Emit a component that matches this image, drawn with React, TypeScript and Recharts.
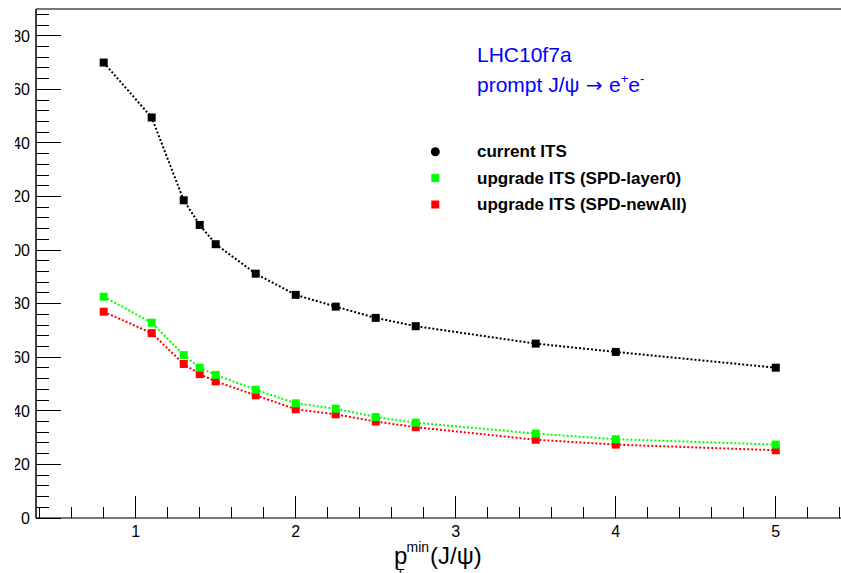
import React from 'react';
import { LineChart, Line, XAxis, YAxis, Legend, ReferenceLine } from 'recharts';

const FONT = '"Liberation Sans", Arial, Helvetica, sans-serif';

// pT min cut values (GeV/c)
const ptMin = [0.8, 1.1, 1.3, 1.4, 1.5, 1.75, 2, 2.25, 2.5, 2.75, 3.5, 4, 5];
const currentITS = [170.0, 149.5, 118.6, 109.4, 102.2, 91.2, 83.3, 78.9, 74.7, 71.6, 65.1, 62.0, 56.1];
const upgradeLayer0 = [82.6, 72.9, 60.8, 56.1, 53.4, 47.9, 42.8, 40.8, 37.7, 35.6, 31.5, 29.4, 27.4];
const upgradeNewAll = [77.0, 69.0, 57.5, 53.7, 51.0, 45.8, 40.6, 38.7, 36.0, 33.9, 29.2, 27.4, 25.3];

const seriesNames = ['current ITS', 'upgrade ITS (SPD-layer0)', 'upgrade ITS (SPD-newAll)'];

const xTicks = [0.4, 0.6, 0.8, 1, 1.2, 1.4, 1.6, 1.8, 2, 2.2, 2.4, 2.6, 2.8, 3, 3.2, 3.4, 3.6, 3.8, 4, 4.2, 4.4, 4.6, 4.8, 5, 5.2, 5.4];
const yTicks = [0, 4, 8, 12, 16, 20, 24, 28, 32, 36, 40, 44, 48, 52, 56, 60, 64, 68, 72, 76, 80, 84, 88, 92, 96, 100, 104, 108, 112, 116, 120, 124, 128, 132, 136, 140, 144, 148, 152, 156, 160, 164, 168, 172, 176, 180, 184, 188];
const yLabels = [0, 20, 40, 60, 80, 100, 120, 140, 160, 180];

const data = ptMin.map((x, i) => ({
  x,
  cur: currentITS[i],
  l0: upgradeLayer0[i],
  na: upgradeNewAll[i],
}));

function XTick(props: any) {
  const { x, y, payload } = props;
  const major = Number.isInteger(payload.value);
  return (
    <g>
      <line x1={x} x2={x} y1={y} y2={y - (major ? 22 : 11)} stroke="#000" strokeWidth={1} shapeRendering="crispEdges" />
      {major && (
        <text x={x} y={y + 19} textAnchor="middle" fontSize={16} fontFamily={FONT} fill="#000">
          {payload.value}
        </text>
      )}
    </g>
  );
}

function YTick(props: any) {
  const { x, y, payload } = props;
  const major = yLabels.includes(payload.value);
  return (
    <g>
      <line x1={x} x2={x + (major ? 25 : 13)} y1={y} y2={y} stroke="#000" strokeWidth={1} shapeRendering="crispEdges" />
      {major && (
        <text x={x - 6} y={y} dy="0.36em" textAnchor="end" fontSize={16} fontFamily={FONT} fill="#000">
          {payload.value}
        </text>
      )}
    </g>
  );
}

const squareDot = (color: string) => (p: any) => (
  <rect key={`d-${color}-${p.index}`} x={p.cx - 4} y={p.cy - 4} width={8} height={8} fill={color} />
);

function Overlay(props: any) {
  const payload = props.payload || [];
  const items = seriesNames.map((n) => payload.find((p: any) => p.value === n)).filter(Boolean);
  return (
    <svg width={841} height={573} style={{ display: 'block', pointerEvents: 'none' }}>
      <text x={477} y={62} fontSize={21} fontFamily={FONT} fill="#0000ff">LHC10f7a</text>
      <text x={477} y={92} fontSize={21} fontFamily={FONT} fill="#0000ff">
        prompt J/ψ
        <tspan fontFamily='"DejaVu Sans", sans-serif' fontSize={20}> → </tspan>
        e
        <tspan fontSize={13} dy={-9}>+</tspan>
        <tspan dy={9}>e</tspan>
        <tspan fontSize={13} dy={-9}>-</tspan>
      </text>
      {items.map((it: any, i: number) => (
        <g key={it.value}>
          {it.type === 'circle' ? (
            <circle cx={435.3} cy={151.7 + i * 26.4} r={4.5} fill={it.color} />
          ) : (
            <rect x={431.3} y={147.7 + i * 26.4} width={8} height={8} fill={it.color} />
          )}
          <text x={477} y={157 + i * 26.5} fontSize={17} fontWeight="bold" fontFamily={FONT} fill="#000">
            {it.value}
          </text>
        </g>
      ))}
      <text fontFamily={FONT} fill="#000">
        <tspan x={394} y={564} fontSize={24}>p</tspan>
        <tspan x={396.5} y={578} fontSize={13}>T</tspan>
        <tspan x={406.5} y={552} fontSize={14}>min</tspan>
        <tspan x={430} y={564} fontSize={24}>(J/ψ)</tspan>
      </text>
    </svg>
  );
}

export default function App() {
  return (
    <div style={{ position: 'fixed', left: 0, top: 0, width: 841, height: 573, overflow: 'hidden', background: '#fff' }}>
      <LineChart width={841} height={573} data={data} margin={{ top: 9, right: -2, bottom: 0, left: 0 }}>
        <XAxis
          type="number"
          dataKey="x"
          domain={[0.377, 5.42]}
          allowDataOverflow
          ticks={xTicks}
          interval={0}
          height={55}
          tickSize={0}
          tickMargin={0}
          tickLine={false}
          tick={<XTick />}
          axisLine={{ stroke: '#777', strokeWidth: 2 }}
        />
        <YAxis
          type="number"
          domain={[0, 190]}
          allowDataOverflow
          ticks={yTicks}
          interval={0}
          width={36}
          tickSize={0}
          tickMargin={0}
          tickLine={false}
          tick={<YTick />}
          axisLine={{ stroke: '#000', strokeWidth: 1.5 }}
        />
        <ReferenceLine y={190} stroke="#777" strokeWidth={2} ifOverflow="visible" />
        <Legend
          layout="horizontal"
          verticalAlign="middle"
          align="center"
          content={<Overlay />}
          wrapperStyle={{ left: 0, top: 0, width: 841, height: 573 }}
        />
        <Line
          dataKey="na"
          name={seriesNames[2]}
          type="linear"
          stroke="#ff0000"
          strokeWidth={2}
          strokeDasharray="2 2"
          dot={squareDot('#ff0000')}
          activeDot={false}
          legendType="square"
          isAnimationActive={false}
        />
        <Line
          dataKey="l0"
          name={seriesNames[1]}
          type="linear"
          stroke="#00ff00"
          strokeWidth={2}
          strokeDasharray="2 2"
          dot={squareDot('#00ff00')}
          activeDot={false}
          legendType="square"
          isAnimationActive={false}
        />
        <Line
          dataKey="cur"
          name={seriesNames[0]}
          type="linear"
          stroke="#000000"
          strokeWidth={2}
          strokeDasharray="2 2"
          dot={squareDot('#000000')}
          activeDot={false}
          legendType="circle"
          isAnimationActive={false}
        />
      </LineChart>
      {/* the original figure is cropped on the left, hiding the leading digit of the y labels */}
      <div style={{ position: 'absolute', left: 0, top: 0, width: 15, height: 573, background: '#fff' }} />
    </div>
  );
}
